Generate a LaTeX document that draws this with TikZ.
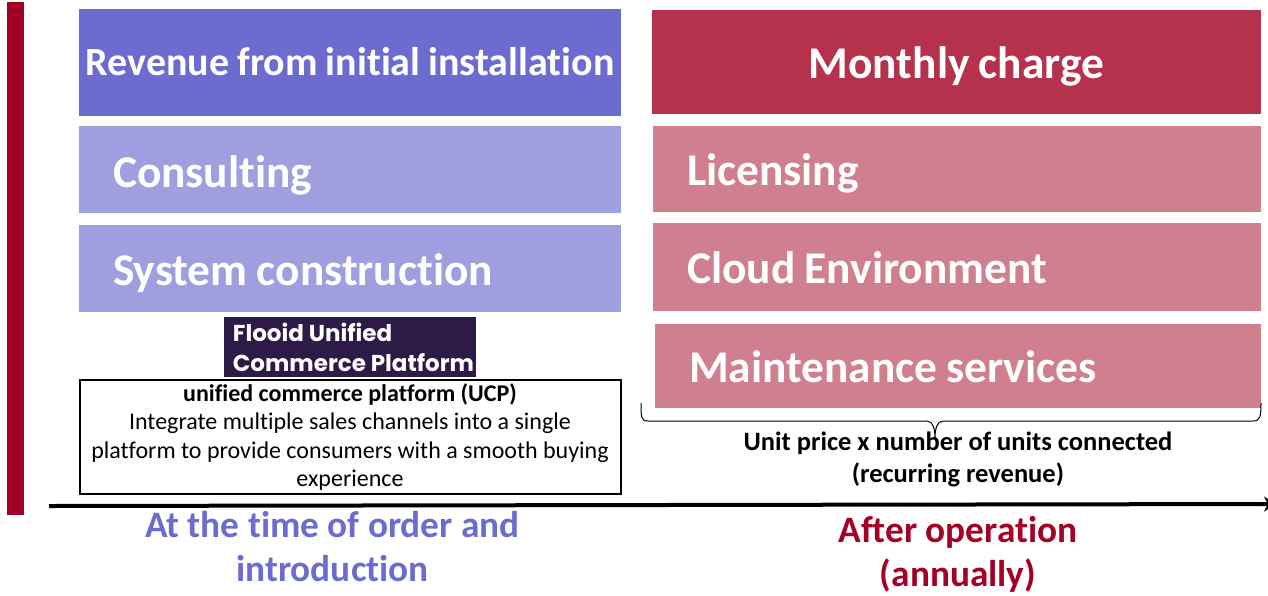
\documentclass[tikz,border=0pt]{standalone}
\usepackage{fontspec}
\setmainfont{Carlito}[Ligatures=NoCommon]
\newfontfamily\headfont{Carlito}[Ligatures=NoCommon, WordSpace=0.9]
\newfontfamily\logofont{Poppins}
\usepackage{tikz}
\usetikzlibrary{arrows.meta}
\definecolor{initblue}{RGB}{107, 107, 208}
\definecolor{lightblue}{RGB}{159, 158, 223}
\definecolor{monthred}{RGB}{181, 49, 76}
\definecolor{lightred}{RGB}{208, 127, 142}
\definecolor{barred}{RGB}{165, 0, 38}
\definecolor{logodark}{RGB}{46, 26, 71}

\begin{document}
\begin{tikzpicture}[
    x=1pt, y=-1pt,
    nodebox/.style={inner sep=0pt, align=center, text=white, text height=33pt, text depth=0pt, font=\headfont\fontsize{45.4}{50}\selectfont\bfseries},
    itembox/.style={nodebox, align=flush left, inner xsep=34pt},
    period/.style={inner sep=0pt, align=center, font=\fontsize{37.3}{44}\selectfont\bfseries},
    note/.style={inner sep=0pt, align=center, font=\fontsize{26.5}{32}\selectfont\bfseries},
    arrow/.style={-{Stealth[length=12pt, width=15pt]}, line width=4pt},
  ]
    \useasboundingbox (0,0) rectangle (1268,595);

    % Side bar
    \node[fill=barred, inner sep=0pt, minimum width=17pt, minimum height=513pt] (bar) at (15.5,258.5) {};

    % Left column
    \node[nodebox, fill=initblue, minimum width=542pt, minimum height=107pt, text height=26pt, font=\headfont\fontsize{40}{44}\selectfont\bfseries] (revenue) at (350,62.5) {Revenue from initial installation};
    \node[itembox, fill=lightblue, text width=474pt, minimum height=87pt, text height=36pt] (consult) at (350,169.5) {Consulting};
    \node[itembox, fill=lightblue, text width=474pt, minimum height=87pt] (system) at (350,268.5) {System construction};

    % Logo
    \node[fill=logodark, text=white, inner sep=0pt, minimum width=252pt, minimum height=60pt, align=left, text depth=-4pt,
          font=\logofont\bfseries\fontsize{23}{30}\selectfont] (logo) at (350,347) {\hspace*{7pt}Flooid Unified\\\hspace*{7pt}Commerce Platform};

    % UCP box
    \node[draw, line width=2pt, inner sep=0pt, minimum width=541pt, minimum height=114pt, align=center, text depth=3pt,
          font=\fontsize{24}{28.5}\selectfont] (ucp) at (350,436.5)
      {\textbf{unified commerce platform (UCP)}\\Integrate multiple sales channels into a single\\
        platform to provide consumers with a smooth buying\\experience};

    % Right column
    \node[nodebox, fill=monthred, minimum width=609pt, minimum height=104pt] (monthly) at (956.5,62) {Monthly charge};
    \node[itembox, fill=lightred, text width=540pt, minimum height=86pt] (license) at (957,169) {Licensing};
    \node[itembox, fill=lightred, text width=540pt, minimum height=88pt] (cloud) at (957,267) {Cloud Environment};
    \node[itembox, fill=lightred, text width=538pt, minimum height=84pt] (maint) at (958,366) {Maintenance services};

    % Brace
    \coordinate (bracel) at (641,403);
    \coordinate (bracer) at (1261,403);
    \coordinate (bracetip) at (935,438);
    \draw[line width=1pt] (bracel) .. controls +(0,14) and +(-7,0) .. ++(7,18) -- ++(279,0)
      .. controls +(6,0) and +(0,-9) .. (bracetip) .. controls +(0,-9) and +(-6,0) .. ++(8,-17) -- ++(310,0)
      .. controls +(7,0) and +(0,14) .. (bracer);
    \node[note] (unit) at (958,459) {Unit price x number of units connected\\(recurring revenue)};

    % Time axis
    \coordinate (axisl) at (49,506);
    \coordinate (axisr) at (1276,504);
    \draw[arrow] (axisl) -- (axisr);

    % Period labels
    \node[period, text=initblue] (order) at (332.5,547) {At the time of order and\\introduction};
    \node[period, text=barred] (after) at (958,554) {After operation\\(annually)};
  \end{tikzpicture}
\end{document}
